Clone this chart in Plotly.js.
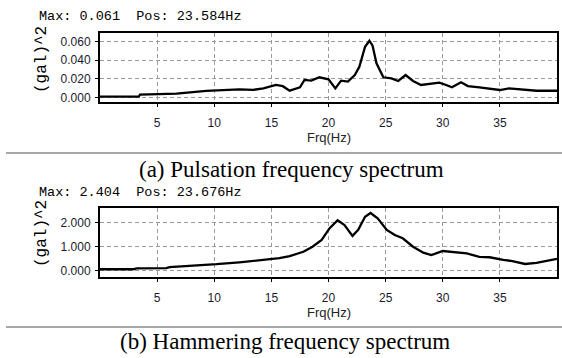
<!DOCTYPE html>
<html>
<head>
<meta charset="utf-8">
<script src="https://cdn.plot.ly/plotly-3.0.1.min.js"></script>
<style>
html,body{margin:0;padding:0;background:#fff;}
#chart{width:562px;height:358px;}
</style>
</head>
<body>
<div id="chart"></div>
<script>
// Pulsation spectrum (a)
const freqA = [0, 3.4, 3.5, 6.7, 9.3, 12.2, 13.4, 14.3, 15.4, 16.0, 16.6, 17.5, 17.9, 18.5, 19.2, 20.0, 20.6, 21.1, 21.7, 22.3, 22.7, 23.2, 23.58, 23.85, 24.2, 24.8, 25.5, 26.1, 26.75, 27.4, 28.1, 29.1, 29.7, 30.3, 30.8, 31.6, 32.2, 33.2, 35.0, 35.8, 36.7, 38.2, 40];
const ampA  = [0.0007, 0.0007, 0.003, 0.004, 0.007, 0.0086, 0.008, 0.0097, 0.0133, 0.012, 0.0072, 0.0108, 0.0187, 0.018, 0.0216, 0.0194, 0.0097, 0.018, 0.0169, 0.024, 0.033, 0.0545, 0.061, 0.056, 0.0367, 0.0216, 0.0205, 0.0176, 0.024, 0.0176, 0.0133, 0.0151, 0.0158, 0.0133, 0.0108, 0.0162, 0.0122, 0.0108, 0.0079, 0.0097, 0.0086, 0.0071, 0.0071];
// Hammering spectrum (b)
const freqB = [0, 2.9, 3.2, 5.8, 6.1, 8.2, 10.2, 12.2, 14.0, 15.7, 16.6, 17.8, 18.6, 19.4, 20.1, 20.8, 21.4, 22.1, 22.6, 23.2, 23.68, 24.3, 25.1, 25.8, 26.5, 27.4, 28.3, 29.0, 30.0, 30.9, 32.1, 33.2, 34.1, 35.3, 36.1, 37.2, 38.2, 40];
const ampB  = [0.06, 0.06, 0.1, 0.11, 0.15, 0.2, 0.27, 0.35, 0.45, 0.52, 0.61, 0.79, 1.0, 1.28, 1.77, 2.1, 1.9, 1.45, 1.7, 2.25, 2.404, 2.18, 1.7, 1.49, 1.35, 1.0, 0.75, 0.65, 0.82, 0.79, 0.72, 0.58, 0.56, 0.45, 0.4, 0.28, 0.33, 0.49];

const xTicks = [5, 10, 15, 20, 25, 30, 35];
const yTicksA = [0, 0.02, 0.04, 0.06];
const yTicksB = [0, 1, 2];
const headerA = "Max: 0.061  Pos: 23.584Hz";
const headerB = "Max: 2.404  Pos: 23.676Hz";
const captionA = "(a) Pulsation frequency spectrum";
const captionB = "(b) Hammering frequency spectrum";
const xTitle = "Frq(Hz)";
const yTitle = "(gal)^2";

const W = 562, H = 358;
const px = v => v / W;
const py = v => 1 - v / H;

const lineStyle = {color: '#000', width: 2.3};
const traces = [
  {x: freqA, y: ampA, type: 'scatter', mode: 'lines', line: lineStyle, xaxis: 'x', yaxis: 'y', hoverinfo: 'skip'},
  {x: freqB, y: ampB, type: 'scatter', mode: 'lines', line: lineStyle, xaxis: 'x2', yaxis: 'y2', hoverinfo: 'skip'}
];

const tickFont = {family: 'Liberation Sans, Arial, sans-serif', size: 12, color: '#1a1a2e'};
function xa(anchor) {
  return {
    domain: [px(100), px(557)], anchor: anchor, range: [0, 40],
    tickvals: xTicks, ticks: 'outside', ticklen: 3, tickcolor: '#000', tickwidth: 1,
    showgrid: true, gridcolor: '#9a9a9a', griddash: '4px,3px', gridwidth: 1,
    showline: true, mirror: true, linecolor: '#000', linewidth: 2,
    zeroline: false, tickfont: tickFont, ticklabelstandoff: 6
  };
}
function ya(anchor, top, bot, range, vals) {
  return {
    domain: [py(bot), py(top)], anchor: anchor, range: range,
    tickvals: vals, tickformat: '.3f', ticks: 'outside', ticklen: 3, tickcolor: '#000',
    showgrid: true, gridcolor: '#9a9a9a', griddash: '4px,3px', gridwidth: 1,
    showline: true, mirror: true, linecolor: '#000', linewidth: 2,
    zeroline: false, tickfont: tickFont, ticklabelstandoff: 2
  };
}

const monoFont = {family: 'Liberation Mono, Courier New, monospace', size: 13.5, color: '#000'};
const serifFont = {family: 'Liberation Serif, Times New Roman, serif', size: 23, color: '#000'};
const sansSmall = {family: 'Liberation Sans, Arial, sans-serif', size: 13, color: '#222'};
const yTitleFont = {family: monoFont.family, size: 16, color: '#000'};

const layout = {
  width: W, height: H,
  margin: {l: 0, r: 0, t: 0, b: 0},
  paper_bgcolor: '#fff', plot_bgcolor: '#fff',
  showlegend: false,
  xaxis: xa('y'),
  yaxis: ya('x', 33.3, 101.7, [-0.0047, 0.069], yTicksA),
  xaxis2: xa('y2'),
  yaxis2: ya('x2', 208.3, 276.7, [-0.25, 2.6], yTicksB),
  annotations: [
    {text: headerA, x: px(37), y: py(17), xref: 'paper', yref: 'paper', xanchor: 'left', yanchor: 'middle', showarrow: false, font: monoFont},
    {text: headerB, x: px(37), y: py(192), xref: 'paper', yref: 'paper', xanchor: 'left', yanchor: 'middle', showarrow: false, font: monoFont},
    {text: yTitle, x: px(42), y: py(60), xref: 'paper', yref: 'paper', xanchor: 'center', yanchor: 'middle', textangle: -90, showarrow: false, font: yTitleFont},
    {text: yTitle, x: px(42), y: py(234), xref: 'paper', yref: 'paper', xanchor: 'center', yanchor: 'middle', textangle: -90, showarrow: false, font: yTitleFont},
    {text: xTitle, x: px(328.5), y: py(137.5), xref: 'paper', yref: 'paper', xanchor: 'center', yanchor: 'middle', showarrow: false, font: sansSmall},
    {text: xTitle, x: px(328.5), y: py(312.5), xref: 'paper', yref: 'paper', xanchor: 'center', yanchor: 'middle', showarrow: false, font: sansSmall},
    {text: captionA, x: px(291), y: py(169.5), xref: 'paper', yref: 'paper', xanchor: 'center', yanchor: 'middle', showarrow: false, font: serifFont},
    {text: captionB, x: px(285), y: py(341.5), xref: 'paper', yref: 'paper', xanchor: 'center', yanchor: 'middle', showarrow: false, font: serifFont}
  ],
  shapes: [
    {type: 'line', xref: 'paper', yref: 'paper', x0: px(6), x1: 1, y0: py(153), y1: py(153), line: {color: '#8a8a8a', width: 1.5}},
    {type: 'line', xref: 'paper', yref: 'paper', x0: px(6), x1: 1, y0: py(327), y1: py(327), line: {color: '#8a8a8a', width: 1.5}}
  ]
};

Plotly.newPlot('chart', traces, layout, {staticPlot: true, displayModeBar: false});
</script>
</body>
</html>
